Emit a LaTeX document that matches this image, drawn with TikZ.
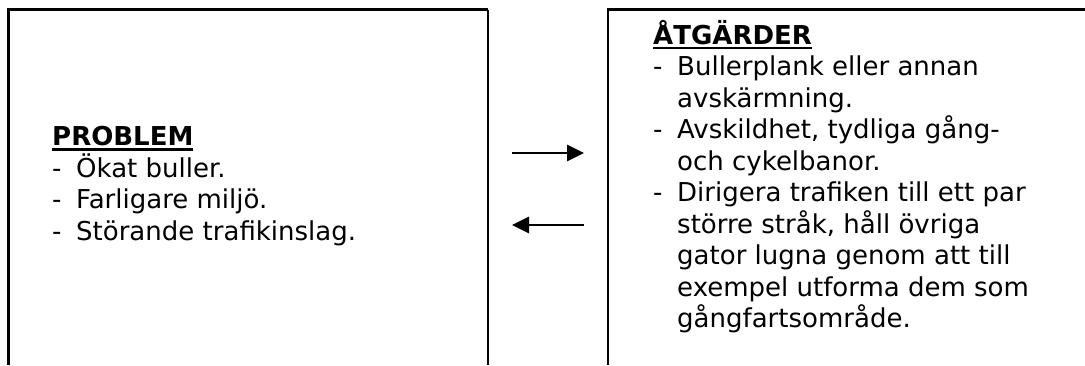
\documentclass[tikz,border=0pt]{standalone}
\usepackage{fontspec}
\setmainfont{DejaVu Sans}
\usetikzlibrary{positioning,arrows.meta}

\tikzset{
  listtext/.style={anchor=base west, align=left, inner sep=0pt,
    font=\fontsize{26}{31.5}\selectfont},
  pointer/.style={-{Triangle[length=17pt,width=16pt]}, line width=2.8pt},
}
\newcommand{\itm}{\makebox[24pt][l]{-}}
\newcommand{\cnt}{\hspace*{24pt}}
\newcommand{\head}[1]{\setbox0\hbox{\textbf{#1}}\rlap{\rule[-5pt]{\wd0}{2.2pt}}\box0}

\begin{document}
\begin{tikzpicture}[x=1pt,y=-1pt]
\useasboundingbox (0,0) rectangle (1085,365);
%% the two open boxes
\draw[line width=3pt] (8,365) -- (8,9.5);
\draw[line width=3pt] (6.5,9.5) -- (488,9.5);
\draw[line width=1.8pt] (488,9.5) -- (488,365);
\draw[line width=1.8pt] (608,365) -- (608,9.5);
\draw[line width=3pt] (607,9.5) -- (1085,9.5);
%% texts (anchored at the baseline of the last line)
\node[listtext] (problem) at (52,240) {\head{PROBLEM}\\
\itm Ökat buller.\\
\itm Farligare miljö.\\
\itm Störande trafikinslag.};
\node[listtext] (atgarder) at (653,327.5) {\head{ÅTGÄRDER}\\
\itm Bullerplank eller annan\\
\cnt avskärmning.\\
\itm Avskildhet, tydliga gång-\\
\cnt och cykelbanor.\\
\itm Dirigera trafiken till ett par\\
\cnt större stråk, håll övriga\\
\cnt gator lugna genom att till\\
\cnt exempel utforma dem som\\
\cnt gångfartsområde.};
%% arrows
\coordinate (r1) at (512,153);
\coordinate (r2) at (584,153);
\coordinate (l1) at (584,225);
\coordinate (l2) at (512,225);
\draw[pointer] (r1) -- (r2);
\draw[pointer] (l1) -- (l2);
\end{tikzpicture}
\end{document}
